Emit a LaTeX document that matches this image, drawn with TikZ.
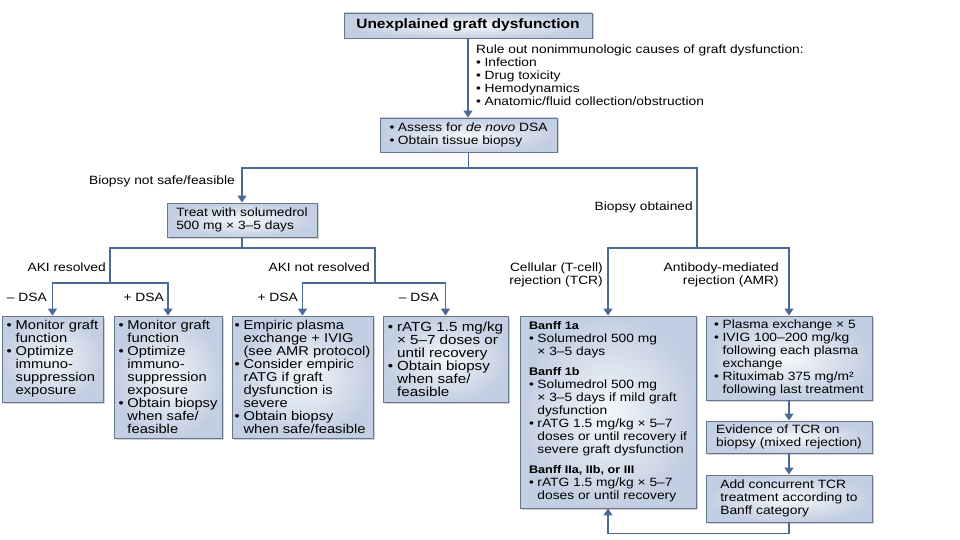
\documentclass[tikz,border=0pt]{standalone}
\usepackage{fontspec}
\setmainfont{Liberation Sans}[FakeStretch=1.15]
\usetikzlibrary{arrows.meta,shadows}
\definecolor{linec}{HTML}{4A6A93}
\definecolor{boxdraw}{HTML}{66768D}
\definecolor{boxin}{HTML}{F5F7FB}
\definecolor{boxout}{HTML}{C2CEE1}
\newcommand\bu{\makebox[0.7em][l]{\textbullet}}
\newcommand\ind{\hspace*{0.7em}}
\newcommand\bh[1]{{\bfseries\fontsize{11}{13}\selectfont #1}}
\begin{document}
\begin{tikzpicture}[x=1pt,y=-1pt,
  box/.style={draw=boxdraw, line width=0.9pt, inner color=boxin, outer color=boxout,
    drop shadow={shadow xshift=1.5pt,shadow yshift=-1.5pt,opacity=0.35},
    align=left, inner sep=1pt, font=\fontsize{12}{13}\selectfont},
  bigbox/.style={box, font=\fontsize{12.8}{13}\selectfont},
  lbl/.style={inner sep=0pt, font=\fontsize{12}{13}\selectfont},
  conn/.style={draw=linec, line width=1.5pt},
  arr/.style={conn, -{Triangle[width=9pt,length=7pt]}}
]
\fill[white] (0,0) rectangle (960,540);
\useasboundingbox (0,0) rectangle (960,540);

% boxes
\node[box, font=\bfseries\fontsize{13.5}{15}\selectfont, minimum width=248, minimum height=25] (top) at (468,25.5) {Unexplained graft dysfunction};
\node[box, minimum width=177, minimum height=34] (assess) at (468.5,135) {\bu Assess for \textit{de novo} DSA\\\bu Obtain tissue biopsy};
\node[box, minimum width=150, minimum height=34] (treat) at (242,220) {Treat with solumedrol\\500 mg × 3–5 days};
\node[bigbox, minimum width=101, minimum height=86] (b1) at (52.5,359) {\bu Monitor graft\\\ind function\\\bu Optimize\\\ind immuno-\\\ind suppression\\\ind exposure};
\node[bigbox, minimum width=108, minimum height=122] (b2) at (168,377) {\bu Monitor graft\\\ind function\\\bu Optimize\\\ind immuno-\\\ind suppression\\\ind exposure\\\bu Obtain biopsy\\\ind when safe/\\\ind feasible};
\node[bigbox, minimum width=141, minimum height=122] (b3) at (302.5,377) {\bu Empiric plasma\\\ind exchange + IVIG\\\ind (see AMR protocol)\\\bu Consider empiric\\\ind rATG if graft\\\ind dysfunction is\\\ind severe\\\bu Obtain biopsy\\\ind when safe/feasible};
\node[bigbox, font=\fontsize{13.2}{13}\selectfont, minimum width=125, minimum height=86] (b4) at (445.5,359) {\bu rATG 1.5 mg/kg\\\ind × 5–7 doses or\\\ind until recovery\\\bu Obtain biopsy\\\ind when safe/\\\ind feasible};
\node[box, minimum width=176, minimum height=192] (banff) at (608,412) {\bh{Banff 1a}\\\bu Solumedrol 500 mg\\\ind × 3–5 days\\[7pt]\bh{Banff 1b}\\\bu Solumedrol 500 mg\\\ind × 3–5 days if mild graft\\\ind dysfunction\\\bu rATG 1.5 mg/kg × 5–7\\\ind doses or until recovery if\\\ind severe graft dysfunction\\[7pt]\bh{Banff IIa, IIb, or III}\\\bu rATG 1.5 mg/kg × 5–7\\\ind doses or until recovery};
\node[box, minimum width=166, minimum height=84] (amr) at (789,358) {\bu Plasma exchange × 5\\\bu IVIG 100–200 mg/kg\\\ind following each plasma\\\ind exchange\\\bu Rituximab 375 mg/m²\\\ind following last treatment};
\node[box, minimum width=166, minimum height=32] (evid) at (789,437) {Evidence of TCR on\\biopsy (mixed rejection)};
\node[box, minimum width=166, minimum height=47] (addc) at (789,498.5) {Add concurrent TCR\\treatment according to\\Banff category};

% labels
\node[lbl, anchor=north west, align=left] (rule) at (476,45) {Rule out nonimmunologic causes of graft dysfunction:\\\bu Infection\\\bu Drug toxicity\\\bu Hemodynamics\\\bu Anatomic/fluid collection/obstruction};
\node[lbl, anchor=east] (lnsafe) at (235,181) {Biopsy not safe/feasible};
\node[lbl, anchor=east] (lobt) at (693,207) {Biopsy obtained};
\node[lbl, anchor=east] (laki) at (106,267) {AKI resolved};
\node[lbl, anchor=east] (lakin) at (370,267) {AKI not resolved};
\node[lbl, anchor=east] (ld1) at (47,297) {– DSA};
\node[lbl, anchor=east] (ld2) at (164,297) {+ DSA};
\node[lbl, anchor=east] (ld3) at (298,297) {+ DSA};
\node[lbl, anchor=east] (ld4) at (439,297) {– DSA};
\node[lbl, anchor=east, align=right] (ltcr) at (603,275) {Cellular (T-cell)\\rejection (TCR)};
\node[lbl, anchor=east, align=right] (lamr) at (779,275) {Antibody-mediated\\rejection (AMR)};

% junction coordinates
\coordinate (h1) at (468.5,168);
\coordinate (r1) at (697,248);
\coordinate (l1) at (242,248);
\coordinate (c1) at (110,283);
\coordinate (c2) at (375,283);

% connectors
\draw[arr] (top.south) -- (top.south |- assess.north);
\draw[conn] (assess.south) -- (h1);
\draw[arr] (h1) -| (treat.north);
\draw[conn] (h1) -| (r1);
\draw[arr] (r1) -| (banff.north);
\draw[arr] (r1) -| (amr.north);
\draw[conn] (treat.south) -- (l1);
\draw[conn] (l1) -| (c1);
\draw[conn] (l1) -| (c2);
\draw[arr] (c1) -| (b1.north);
\draw[arr] (c1) -| (b2.north);
\draw[arr] (c2) -| (b3.north);
\draw[arr] (c2) -| (b4.north);
\draw[arr] (amr.south) -- (evid.north);
\draw[arr] (evid.south) -- (addc.north);
\draw[arr] (addc.south) -- ++(0,11) -| (banff.south);
\end{tikzpicture}
\end{document}
